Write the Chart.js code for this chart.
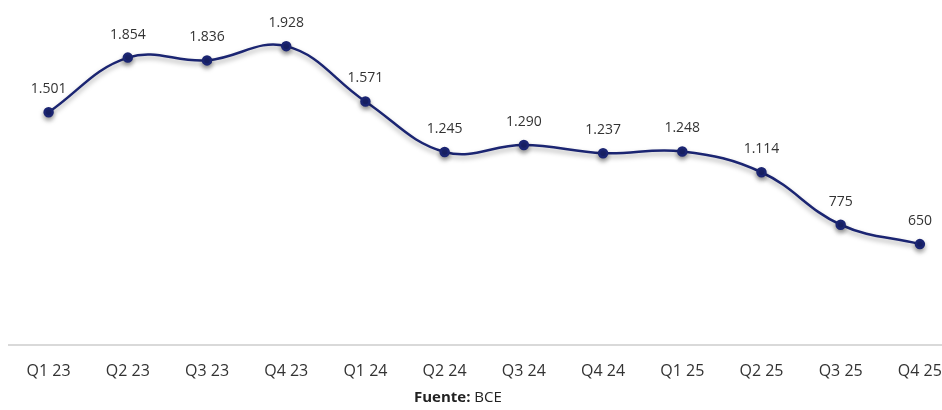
<!DOCTYPE html>
<html>
<head>
<meta charset="utf-8">
<script src="https://cdn.jsdelivr.net/npm/chart.js@4.4.0/dist/chart.umd.min.js"></script>
<style>
  html, body { margin: 0; padding: 0; background: #fff; overflow: hidden; }
  #wrap { position: absolute; left: 0; top: 0; width: 966px; height: 398px; }
  #fuente { position: absolute; left: 414px; top: 386px; font-family: "Open Sans", sans-serif; font-size: 15px; color: #222; }
</style>
</head>
<body>
<div id="wrap"><canvas id="grafico"></canvas></div>
<div id="fuente"><b>Fuente:</b> BCE</div>
<script>
var trimestres = ['Q1 23', 'Q2 23', 'Q3 23', 'Q4 23', 'Q1 24', 'Q2 24', 'Q3 24', 'Q4 24', 'Q1 25', 'Q2 25', 'Q3 25', 'Q4 25'];
var valores = [1501, 1854, 1836, 1928, 1571, 1245, 1290, 1237, 1248, 1114, 775, 650];

var azul = '#1b2572';

function formatear(v) {
  return v.toString().replace(/\B(?=(\d{3})+(?!\d))/g, '.');
}

// sombra bajo la linea
var sombra = {
  id: 'sombra',
  beforeDatasetDraw: function(chart) {
    var ctx = chart.ctx;
    ctx.save();
    ctx.shadowColor = 'rgba(0,0,0,0.35)';
    ctx.shadowBlur = 5;
    ctx.shadowOffsetY = 3;
  },
  afterDatasetDraw: function(chart) {
    chart.ctx.restore();
  }
};

// etiquetas encima de cada punto
var etiquetas = {
  id: 'etiquetas',
  afterDatasetsDraw: function(chart) {
    var ctx = chart.ctx;
    var meta = chart.getDatasetMeta(0);
    ctx.save();
    ctx.font = '14px "Open Sans", sans-serif';
    ctx.fillStyle = '#333';
    ctx.textAlign = 'center';
    ctx.textBaseline = 'middle';
    meta.data.forEach(function(p, i) {
      ctx.fillText(formatear(valores[i]), p.x, p.y - 23);
    });
    ctx.restore();
  }
};

var ctx = document.getElementById('grafico').getContext('2d');
new Chart(ctx, {
  type: 'line',
  data: {
    labels: trimestres,
    datasets: [{
      data: valores,
      borderColor: azul,
      backgroundColor: azul,
      borderWidth: 2.5,
      tension: 0.4,
      pointRadius: 4,
      pointBackgroundColor: azul,
      pointBorderColor: azul,
      fill: false
    }]
  },
  options: {
    responsive: true,
    maintainAspectRatio: false,
    animation: false,
    layout: { padding: { left: 9, right: 0, top: 0, bottom: 0 } },
    plugins: { legend: { display: false }, tooltip: { enabled: false } },
    scales: {
      x: {
        offset: true,
        grid: { display: false, drawTicks: false },
        border: { color: '#d9d9d9', width: 2 },
        ticks: { color: '#333', padding: 17, font: { family: '"Open Sans", sans-serif', size: 16 } }
      },
      y: {
        display: false,
        min: 0,
        max: 2184
      }
    }
  },
  plugins: [sombra, etiquetas]
});
</script>
</body>
</html>
